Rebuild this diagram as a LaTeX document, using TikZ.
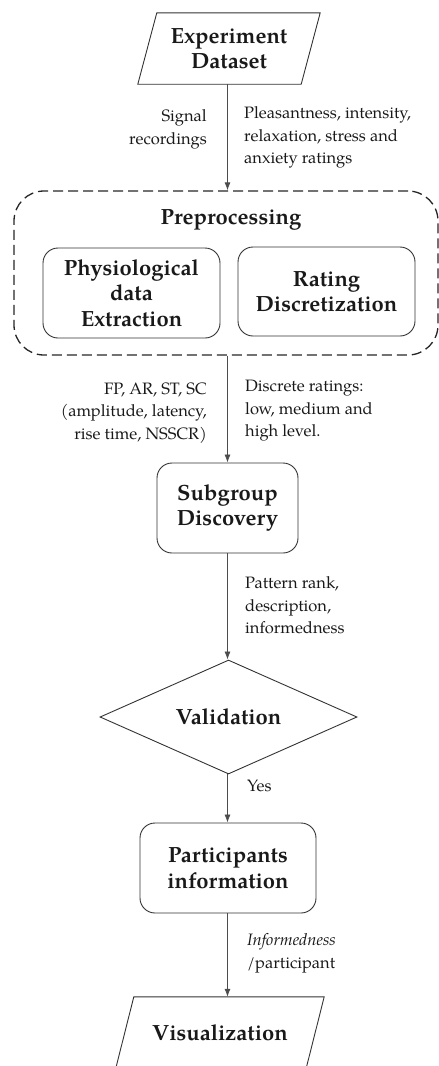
\documentclass[tikz,border=0pt]{standalone}
\usepackage{fontspec}
\setmainfont{TeX Gyre Pagella}
\usetikzlibrary{shapes.geometric,arrows.meta}
\begin{document}
\begin{tikzpicture}[x=1pt,y=-1pt,
  line/.style={draw=black!80, line width=0.9pt},
  arr/.style={draw=black!70, line width=0.8pt, -{Latex[length=8pt,width=6pt]}},
  title/.style={font=\fontsize{22}{25.5}\selectfont\bfseries, align=center, text=black!90},
  lab/.style={font=\fontsize{16.5}{22.5}\selectfont, text=black!90, inner sep=0pt},
  rbox/.style={line, rounded corners=15pt, title, inner sep=0pt},
]
\useasboundingbox (0,0) rectangle (439,1066);

% input dataset
\node[title, minimum width=163, minimum height=71, inner sep=0pt] (exp) at (229,48.5) {Experiment\\Dataset};
\draw[line] ([xshift=9.5]exp.north west) -- ([xshift=9.5]exp.north east) -- ([xshift=-9.5]exp.south east) -- ([xshift=-9.5]exp.south west) -- cycle;

% preprocessing group
\node[draw=black!85, line width=1.3pt, dash pattern=on 10pt off 5pt, rounded corners=30pt, minimum width=424, minimum height=164] (prep) at (226,273) {};
\node[title] (preptitle) at (231,220) {Preprocessing};
\node[rbox, minimum width=177, minimum height=90] (phys) at (131.5,293) {Physiological\\data\\Extraction};
\node[rbox, minimum width=177, minimum height=89] (rate) at (326.5,291.5) {Rating\\Discretization};

% main column
\node[rbox, minimum width=141, minimum height=90] (sub) at (227.5,508) {Subgroup\\Discovery};
\node[diamond, line, title, minimum width=257, minimum height=114, inner sep=0pt, aspect=2.25] (val) at (228.5,717) {Validation};
\node[rbox, minimum width=176, minimum height=90] (part) at (228,868) {Participants\\information};

% output
\node[title, minimum width=190, minimum height=71, inner sep=0pt] (vis) at (220,1032.5) {Visualization};
\draw[line] ([xshift=9]vis.north west) -- ([xshift=9]vis.north east) -- ([xshift=-9]vis.south east) -- ([xshift=-9]vis.south west) -- cycle;

% connectors
\draw[arr] (exp.south -| sub) -- (prep.north -| sub);
\draw[arr] (prep.south -| sub) -- (sub.north);
\draw[arr] (sub.south) -- (val.north -| sub);
\draw[arr] (val.south -| sub) -- (part.north -| sub);
\draw[arr] (part.south -| sub) -- (vis.north -| sub);

% labels
\node[lab, anchor=east, align=right] (l1) at (207,129.5) {Signal\\recordings};
\node[lab, anchor=west, align=left] (l2) at (244,137.5) {Pleasantness, intensity,\\relaxation, stress and\\anxiety ratings};
\node[lab, anchor=east, align=right] (l3) at (207,413) {FP, AR, ST, SC\\(amplitude, latency,\\rise time, NSSCR)};
\node[lab, anchor=west, align=left] (l4) at (245,411) {Discrete ratings:\\low, medium and\\high level.};
\node[lab, anchor=west, align=left] (l5) at (245,605.5) {Pattern rank,\\description,\\informedness};
\node[lab, anchor=west, align=left] (l6) at (247,786) {Yes};
\node[lab, anchor=west, align=left] (l7) at (247,953.5) {\textit{Informedness}\\/participant};
\end{tikzpicture}
\end{document}
